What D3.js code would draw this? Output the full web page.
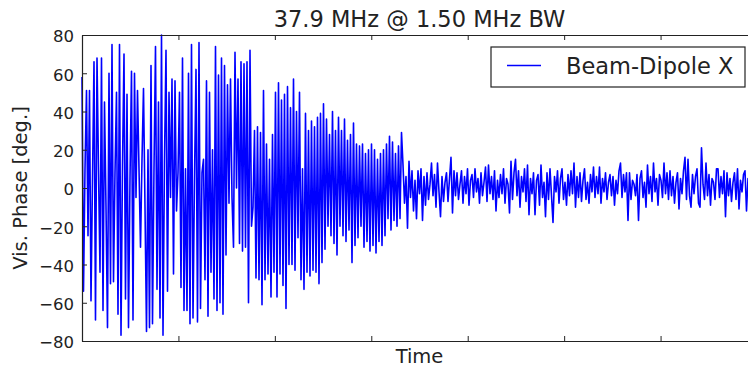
<!DOCTYPE html>
<html lang="en">
	<head>
		<meta charset="utf-8">
		<title>Vis. Phase</title>
		<script src="https://d3js.org/d3.v7.min.js"></script>
		<style>
			body { margin: 0; background: white; }
			svg text { font-family: "DejaVu Sans", sans-serif; fill: #222; }
		</style>
	</head>
	<body>
		<script type="text/javascript">

			// phase samples [deg.] in three stretches
			var phaseStart = [
				58, -54, 10, 51, -25, 51, -59, 5, 66, -69,
				68, 10, -44, 68, -64, 45, -10, -73, 60, -50,
				75, -49, 8, 50, -66, 75, -77, 12, 70, -58,
				49, -73, 5, 61, -69, 60, -5, 51, 10, -31,
				15, 52, -10, -75, 20, -73, 64, -71, 10, 74,
				-53, 45, -68, 80, -77, 15, 72, -54, 50, -5,
				57, -45, 56, -12, 8, 50, -52, 68, -64, 10,
				-64, 60, -71, 75, -68, 5, 62, -70, 76, -63,
				8, 15, -48, 56, -67, 50, -44, 20, -58, 74,
				-64, 59, -60, 68, -66, 64, -35, 54, -8, 57,
				-5, -31, 71, 0, 57, -29, 66, -33, 65, -31,
				66, -60, 72, -20
			];
			var phaseDecay = [
				-10, 30, -47, 32, -48, 29, -61, 51, -48, 23,
				-45, 15, -57, 28, -44, 50, -57, 55, -45, 46,
				-51, 49, -63, 53, -40, 42, -40, 57, -43, 40,
				-26, 50, -48, 10, -53, 39, -44, 30, -46, 35,
				-43, 32, -44, 37, -50, 39, -39, 44, -32, 36,
				-20, 28, -25, 40, -29, 30, -35, 37, -20, 30,
				-25, 36, -28, 25, -22, 28, -39, 34, -30, 23,
				-26, 22, -20, 23, -31, 18, -28, 20, -33, 23,
				-30, 20, -34, 15, -28, 18, -30, 20, -25, 23,
				-16, 27, -22, 24, -17, 18, -20, 22, -16, 29
			];
			var phaseSettled = [
				12, -8, 6, -21, 14, -5, 9, -12, 4, -16,
				9, -3, 10, -17, 6, -9, 8, -6, 2, 13,
				-4, 7, -10, 13, -2, -15, 6, -7, 3, 8,
				-7, 5, 16, -13, 9, -4, 8, -6, 2, 9,
				-8, 6, -3, 10, -9, 4, 7, -5, 10, -2,
				5, -8, 8, -4, 3, 11, -7, 12, -3, 6,
				-6, 9, -12, 4, -5, 7, -3, 10, -8, 5,
				2, -13, 14, -6, 8, 15, -4, 9, -10, 6,
				-2, 10, -7, 12, -14, 5, -3, 8, -14, 4,
				7, -9, 12, -5, 3, -15, 8, -6, 10, -4,
				-18, 6, -2, 9, -8, 5, 10, -6, 3, -9,
				7, -4, 9, -3, 13, -10, 6, -5, 8, -7,
				4, 10, -6, 3, -8, 7, -2, 11, -5, 6,
				-3, 11, -8, 5, -2, 8, -6, 3, 7, -4,
				6, -9, 4, -3, 9, 13, -5, 7, -2, 8,
				-17, 8, -6, 4, 2, -4, 7, -17, 5, 9,
				-5, 3, -10, 12, -3, 6, -7, 13, -2, 5,
				-9, 7, 4, -5, 13, -3, 8, -6, 9, -4,
				6, -8, 3, 8, -11, 5, -3, 9, 16, -6,
				15, -4, -10, 7, -3, 6, 10, -8, -10, 21,
				2, -6, 13, -4, 7, -9, 5, 3, -6, 10,
				10, -5, 6, -3, 9, -15, 8, -4, 5, -7,
				3, 8, -6, 10, -11, 4, -2, 7, 9, -12,
				5, -3, 8, -6, 4, 7, -5
			];
			var phase = phaseStart.concat(phaseDecay, phaseSettled);

			var yTicks = [-80, -60, -40, -20, 0, 20, 40, 60, 80];
			var xTickSteps = 7;
			var title = "37.9 MHz @ 1.50 MHz BW";
			var seriesName = "Beam-Dipole X";

			// size and plot box
			var w = 748;
			var h = 368;
			var plotL = 82, plotR = 757, plotT = 35, plotB = 341;

			var x_scale = d3.scaleLinear().domain([0, phase.length - 1]).range([plotL, plotR]);
			var y_scale = d3.scaleLinear().domain([-80, 80]).range([plotB, plotT]);

			var xTicks = d3.range(0, xTickSteps + 1).map(function(k) { return k * (phase.length - 1) / xTickSteps; });

			var svg = d3.select("body").append("svg").attr("width", w).attr("height", h);
			svg.append("rect").attr("width", w).attr("height", h).attr("fill", "white");

			// the trace
			var line = d3.line()
				.x(function(d, i) { return x_scale(i); })
				.y(function(d) { return y_scale(d); });
			svg.append("path").datum(phase)
				.attr("d", line)
				.attr("fill", "none")
				.attr("stroke", "#0000ff")
				.attr("stroke-width", 1.6)
				.attr("stroke-linejoin", "round");

			// axes, ticks pointing inward
			function styleAxis(g) {
				g.select(".domain").attr("stroke", "#222").attr("stroke-width", 1.2);
				g.selectAll(".tick line").attr("stroke", "#222").attr("stroke-width", 1);
			}

			var y_axis = d3.axisLeft(y_scale).tickValues(yTicks).tickSizeInner(-5).tickSizeOuter(0).tickPadding(8)
				.tickFormat(function(d) { return d < 0 ? "\u2212" + Math.abs(d) : d; });
			var gy = svg.append("g").attr("transform", "translate(" + plotL + ",0)").call(y_axis).call(styleAxis);
			gy.selectAll(".tick text").attr("font-size", "16.5px").attr("dy", "0.42em")
				.attr("font-family", "DejaVu Sans").attr("fill", "#222");

			svg.append("g").attr("transform", "translate(" + plotR + ",0)")
				.call(d3.axisRight(y_scale).tickValues(yTicks).tickSizeInner(-5).tickSizeOuter(0).tickFormat(""))
				.call(styleAxis);
			svg.append("g").attr("transform", "translate(0," + plotB + ")")
				.call(d3.axisBottom(x_scale).tickValues(xTicks).tickSizeInner(-5).tickSizeOuter(0).tickFormat(""))
				.call(styleAxis);
			svg.append("g").attr("transform", "translate(0," + plotT + ")")
				.call(d3.axisTop(x_scale).tickValues(xTicks).tickSizeInner(-5).tickSizeOuter(0).tickFormat(""))
				.call(styleAxis);

			// labels
			svg.append("text").attr("x", (plotL + plotR) / 2).attr("y", 27)
				.attr("text-anchor", "middle").style("font-size", "22.5px").text(title);
			svg.append("text").attr("x", (plotL + plotR) / 2).attr("y", 363)
				.attr("text-anchor", "middle").style("font-size", "19.5px").text("Time");
			svg.append("text").attr("transform", "translate(27," + (plotT + plotB) / 2 + ") rotate(-90)")
				.attr("text-anchor", "middle").style("font-size", "19.5px").text("Vis. Phase [deg.]");

			// legend
			var lg = svg.append("g").attr("transform", "translate(491,47)");
			lg.append("rect").attr("width", 254).attr("height", 40)
				.attr("fill", "white").attr("stroke", "#222").attr("stroke-width", 1.2);
			lg.append("line").attr("x1", 16).attr("x2", 50).attr("y1", 18.5).attr("y2", 18.5)
				.attr("stroke", "#0000ff").attr("stroke-width", 1.6);
			lg.append("text").attr("x", 75).attr("y", 27).style("font-size", "22.5px").text(seriesName);

		</script>
	</body>
</html>
